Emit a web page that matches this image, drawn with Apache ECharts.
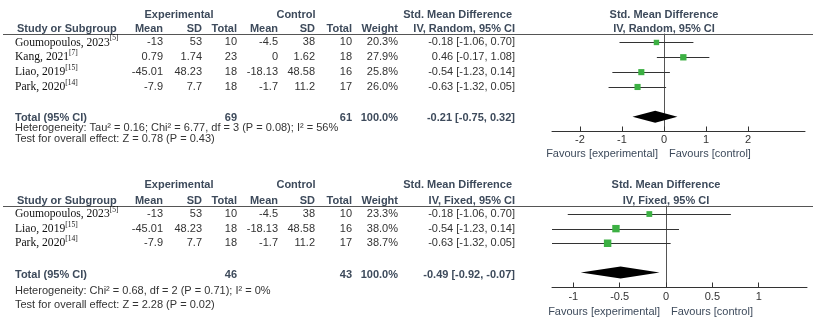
<!DOCTYPE html>
<html>
<head>
<meta charset="utf-8">
<script src="https://cdn.jsdelivr.net/npm/echarts@6/dist/echarts.min.js"></script>
<style>
  html, body { margin: 0; padding: 0; background: #fff; }
  #main { width: 821px; height: 326px; }
</style>
</head>
<body>
<div id="main"></div>
<script>
// ---- random effects (top) ----
const studiesR = ['Goumopoulos, 2023', 'Kang, 2021', 'Liao, 2019', 'Park, 2020'];
const refsR = ['[5]', '[7]', '[15]', '[14]'];
const expMeanR = ['-13', '0.79', '-45.01', '-7.9'];
const expSdR = ['53', '1.74', '48.23', '7.7'];
const expNR = [10, 23, 18, 18];
const ctlMeanR = ['-4.5', '0', '-18.13', '-1.7'];
const ctlSdR = ['38', '1.62', '48.58', '11.2'];
const ctlNR = [10, 18, 16, 17];
const weightR = [20.3, 27.9, 25.8, 26.0];
const smdR = [-0.18, 0.46, -0.54, -0.63];
const loR = [-1.06, -0.17, -1.23, -1.32];
const hiR = [0.70, 1.08, 0.14, 0.05];
const totalR = [-0.21, -0.75, 0.32];     // smd, lo, hi
const totalNR = [69, 61];
const hetR = 'Heterogeneity: Tau\u00b2 = 0.16; Chi\u00b2 = 6.77, df = 3 (P = 0.08); I\u00b2 = 56%';
const testR = 'Test for overall effect: Z = 0.78 (P = 0.43)';
const ticksR = [-2, -1, 0, 1, 2];

// ---- fixed effect (bottom) ----
const studiesF = ['Goumopoulos, 2023', 'Liao, 2019', 'Park, 2020'];
const refsF = ['[5]', '[15]', '[14]'];
const expMeanF = ['-13', '-45.01', '-7.9'];
const expSdF = ['53', '48.23', '7.7'];
const expNF = [10, 18, 18];
const ctlMeanF = ['-4.5', '-18.13', '-1.7'];
const ctlSdF = ['38', '48.58', '11.2'];
const ctlNF = [10, 16, 17];
const weightF = [23.3, 38.0, 38.7];
const smdF = [-0.18, -0.54, -0.63];
const loF = [-1.06, -1.23, -1.32];
const hiF = [0.70, 0.14, 0.05];
const totalF = [-0.49, -0.92, -0.07];
const totalNF = [46, 43];
const hetF = 'Heterogeneity: Chi\u00b2 = 0.68, df = 2 (P = 0.71); I\u00b2 = 0%';
const testF = 'Test for overall effect: Z = 2.28 (P = 0.02)';
const ticksF = [-1, -0.5, 0, 0.5, 1];

const SANS = "'Liberation Sans', Arial, sans-serif";
const SERIF = "'Liberation Serif', 'Times New Roman', serif";
const HEAD = '#3d4a5b';
const NUM = '#333';
const GREEN = '#3cb043';

// column right edges (px)
const col = { name: 15, expMean: 163, expSd: 202, expN: 237, ctlMean: 278, ctlSd: 315, ctlN: 352, weight: 398, ci: 515 };

const panels = [
  {
    method: 'IV, Random, 95% CI',
    studies: studiesR, refs: refsR, expMean: expMeanR, expSd: expSdR, expN: expNR,
    ctlMean: ctlMeanR, ctlSd: ctlSdR, ctlN: ctlNR, weight: weightR, smd: smdR, lo: loR, hi: hiR,
    total: totalR, totalN: totalNR, het: hetR, test: testR, ticks: ticksR,
    grid: { left: 552, top: 34, width: 253, height: 97.5 },
    xMin: -2.667, xMax: 3.357, yMin: -0.57, yMax: 6.0,
    head1: 15, head2: 29, totalY: 117.5, hetY: 128.3, testY: 138.5, favY: 153.5, labelMargin: 3
  },
  {
    method: 'IV, Fixed, 95% CI',
    studies: studiesF, refs: refsF, expMean: expMeanF, expSd: expSdF, expN: expNF,
    ctlMean: ctlMeanF, ctlSd: ctlSdF, ctlN: ctlNF, weight: weightF, smd: smdF, lo: loF, hi: hiF,
    total: totalF, totalN: totalNF, het: hetF, test: testF, ticks: ticksF,
    grid: { left: 552, top: 206, width: 255, height: 81.5 },
    xMin: -1.23, xMax: 1.521, yMin: -0.55, yMax: 5.03,
    head1: 185, head2: 201, totalY: 275, hetY: 290.7, testY: 305, favY: 312, labelMargin: 4
  }
];

function fmt(v) { return v.toFixed(2); }
function ciText(s, l, h) { return fmt(s) + ' [' + fmt(l) + ', ' + fmt(h) + ']'; }

function text(x, y, s, o) {
  o = o || {};
  return {
    type: 'text', x: x, y: y, silent: true,
    style: {
      text: s,
      font: (o.bold ? 'bold ' : '') + (o.size || 11) + 'px ' + (o.family || SANS),
      fill: o.color || NUM,
      align: o.align || 'right',
      verticalAlign: 'middle'
    }
  };
}

let graphics = [];
let grids = [], xAxes = [], yAxes = [], series = [];

panels.forEach(function (p, k) {
  const g = p.grid;
  const rowY = function (i) { return g.top + (i - p.yMin) * g.height / (p.yMax - p.yMin); };
  const xPix = function (v) { return g.left + (v - p.xMin) * g.width / (p.xMax - p.xMin); };
  const n = p.studies.length;

  grids.push(g);
  xAxes.push({
    gridIndex: k, type: 'value', min: p.xMin, max: p.xMax,
    axisLine: { onZero: false, lineStyle: { color: '#333', width: 1 } },
    axisTick: { inside: true, length: 5, customValues: p.ticks, lineStyle: { color: '#333' } },
    axisLabel: { customValues: p.ticks, margin: p.labelMargin, color: '#333', fontSize: 11, fontFamily: SANS },
    splitLine: { show: false }
  });
  yAxes.push({
    gridIndex: k, type: 'value', inverse: true, min: p.yMin, max: p.yMax,
    axisLine: { show: true, onZero: true, lineStyle: { color: '#555', width: 1 } },
    axisTick: { show: false }, axisLabel: { show: false }, splitLine: { show: false }
  });

  // confidence intervals
  series.push({
    type: 'custom', xAxisIndex: k, yAxisIndex: k, silent: true,
    data: p.smd.map(function (s, i) { return [p.lo[i], p.hi[i], i]; }),
    encode: { x: [0, 1], y: 2 },
    renderItem: function (params, api) {
      const a = api.coord([api.value(0), api.value(2)]);
      const b = api.coord([api.value(1), api.value(2)]);
      const cs = params.coordSys;
      const y = Math.round(a[1]) + 0.5;
      return {
        type: 'line',
        shape: { x1: Math.max(a[0], cs.x), y1: y, x2: Math.min(b[0], cs.x + cs.width), y2: y },
        style: { stroke: '#333', lineWidth: 1 }
      };
    }
  });
  // study squares
  series.push({
    type: 'scatter', xAxisIndex: k, yAxisIndex: k, silent: true,
    symbol: 'rect',
    symbolSize: function (v) { return 1.2 * Math.sqrt(v[2]); },
    itemStyle: { color: GREEN, opacity: 1 },
    data: p.smd.map(function (s, i) { return [s, i, p.weight[i]]; }),
    z: 3
  });
  // pooled diamond
  series.push({
    type: 'custom', xAxisIndex: k, yAxisIndex: k, silent: true,
    data: [[p.total[0], p.total[1], p.total[2], n + 1]],
    encode: { x: [1, 2], y: 3 },
    renderItem: function (params, api) {
      const c = api.coord([api.value(0), api.value(3)]);
      const l = api.coord([api.value(1), api.value(3)]);
      const r = api.coord([api.value(2), api.value(3)]);
      const h = 6;
      return {
        type: 'polygon',
        shape: { points: [[l[0], c[1]], [c[0], c[1] - h], [r[0], c[1]], [c[0], c[1] + h]] },
        style: { fill: '#000' }
      };
    }
  });

  // header rule
  graphics.push({
    type: 'line', silent: true,
    shape: { x1: 3, y1: g.top + 0.5, x2: 813, y2: g.top + 0.5 },
    style: { stroke: '#555', lineWidth: 1 }
  });

  // headers
  const hb = { bold: true, color: HEAD };
  graphics.push(text(179, p.head1, 'Experimental', Object.assign({ align: 'center' }, hb)));
  graphics.push(text(296, p.head1, 'Control', Object.assign({ align: 'center' }, hb)));
  graphics.push(text(512, p.head1, 'Std. Mean Difference', hb));
  graphics.push(text(xPix(0), p.head1, 'Std. Mean Difference', Object.assign({ align: 'center' }, hb)));
  graphics.push(text(col.name + 2, p.head2, 'Study or Subgroup', Object.assign({ align: 'left' }, hb)));
  graphics.push(text(col.expMean, p.head2, 'Mean', hb));
  graphics.push(text(col.expSd, p.head2, 'SD', hb));
  graphics.push(text(col.expN, p.head2, 'Total', hb));
  graphics.push(text(col.ctlMean, p.head2, 'Mean', hb));
  graphics.push(text(col.ctlSd, p.head2, 'SD', hb));
  graphics.push(text(col.ctlN, p.head2, 'Total', hb));
  graphics.push(text(col.weight, p.head2, 'Weight', hb));
  graphics.push(text(col.ci, p.head2, p.method, hb));
  graphics.push(text(xPix(0), p.head2, p.method, Object.assign({ align: 'center' }, hb)));

  // study rows
  p.studies.forEach(function (s, i) {
    const y = rowY(i);
    graphics.push({
      type: 'text', x: col.name, y: y, silent: true,
      style: {
        text: '{n|' + s + '}{s|' + p.refs[i] + '}',
        align: 'left', verticalAlign: 'middle',
        rich: {
          n: { fontFamily: SERIF, fontSize: 11.6, fill: '#111', lineHeight: 16 },
          s: { fontFamily: SERIF, fontSize: 7.5, fill: '#111', lineHeight: 7, verticalAlign: 'top' }
        }
      }
    });
    graphics.push(text(col.expMean, y, p.expMean[i]));
    graphics.push(text(col.expSd, y, p.expSd[i]));
    graphics.push(text(col.expN, y, String(p.expN[i])));
    graphics.push(text(col.ctlMean, y, p.ctlMean[i]));
    graphics.push(text(col.ctlSd, y, p.ctlSd[i]));
    graphics.push(text(col.ctlN, y, String(p.ctlN[i])));
    graphics.push(text(col.weight, y, p.weight[i].toFixed(1) + '%'));
    graphics.push(text(col.ci, y, ciText(p.smd[i], p.lo[i], p.hi[i])));
  });

  // total rows
  const tb = { bold: true, color: HEAD };
  graphics.push(text(col.name, p.totalY, 'Total (95% CI)', Object.assign({ align: 'left' }, tb)));
  graphics.push(text(col.expN, p.totalY, String(p.totalN[0]), tb));
  graphics.push(text(col.ctlN, p.totalY, String(p.totalN[1]), tb));
  graphics.push(text(col.weight, p.totalY, '100.0%', tb));
  graphics.push(text(col.ci, p.totalY, ciText(p.total[0], p.total[1], p.total[2]), tb));
  graphics.push(text(col.name, p.hetY, p.het, { align: 'left' }));
  graphics.push(text(col.name, p.testY, p.test, { align: 'left' }));

  // favours
  graphics.push(text(xPix(0) - 6, p.favY, 'Favours [experimental]', { color: HEAD }));
  graphics.push(text(xPix(0) + 5, p.favY, 'Favours [control]', { color: HEAD, align: 'left' }));
});

const chart = echarts.init(document.getElementById('main'));
chart.setOption({
  animation: false,
  backgroundColor: '#fff',
  grid: grids,
  xAxis: xAxes,
  yAxis: yAxes,
  series: series,
  graphic: { elements: graphics }
});
</script>
</body>
</html>
